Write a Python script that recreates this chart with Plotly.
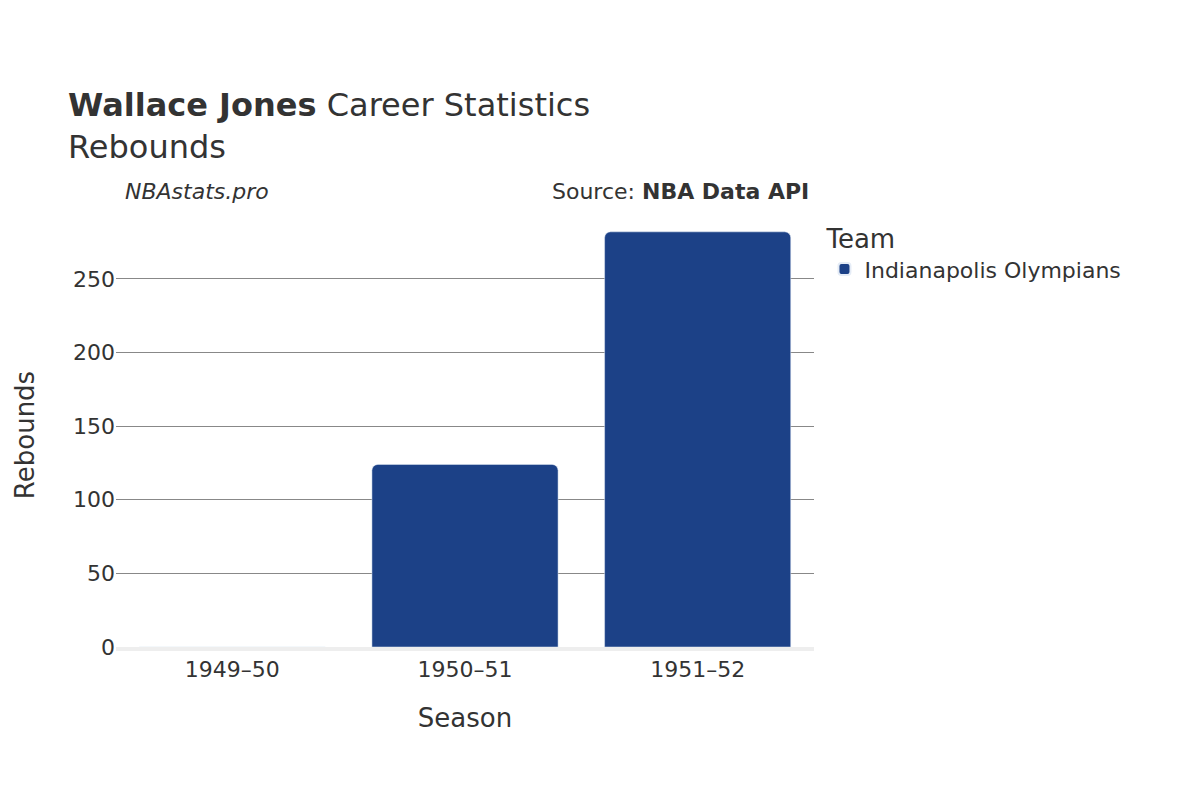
import plotly.graph_objects as go

seasons = ["1949–50", "1950–51", "1951–52"]
rebounds = [0, 124, 282]
team = "Indianapolis Olympians"

fig = go.Figure(go.Bar(x=seasons, y=rebounds, name=team, marker_color="#1c4187",
                       marker_cornerradius=6, showlegend=True))
fig.update_layout(
    width=1200, height=800, paper_bgcolor="white", plot_bgcolor="white",
    font=dict(family="DejaVu Sans", color="#333", size=20),
    title=dict(text="<b>Wallace Jones</b> Career Statistics<br>Rebounds", x=0.05, y=0.865, xanchor="left", font=dict(size=32)),
    margin=dict(l=108, r=394, t=215, b=161),
    xaxis=dict(title=dict(text="Season", font=dict(size=26), standoff=28), showgrid=False, linecolor="#eee", linewidth=4, tickfont=dict(size=22)),
    yaxis=dict(title=dict(text="Rebounds", font=dict(size=26), standoff=30), gridcolor="#888", range=[0, 288], dtick=50, zeroline=False, tickfont=dict(size=22)),
    legend=dict(title=dict(text="Team", font=dict(size=26)), x=1.015, y=1.02, xanchor="left", yanchor="top", font=dict(size=22), itemsizing="constant"),
    bargap=0.2,
    annotations=[
        dict(text="<i>NBAstats.pro</i>", xref="paper", yref="paper", x=0.01, y=1.04, xanchor="left", yanchor="bottom", showarrow=False, font=dict(size=22)),
        dict(text="Source: <b>NBA Data API</b>", xref="paper", yref="paper", x=0.995, y=1.04, xanchor="right", yanchor="bottom", showarrow=False, font=dict(size=22)),
    ],
)
fig.write_html("out.html")
